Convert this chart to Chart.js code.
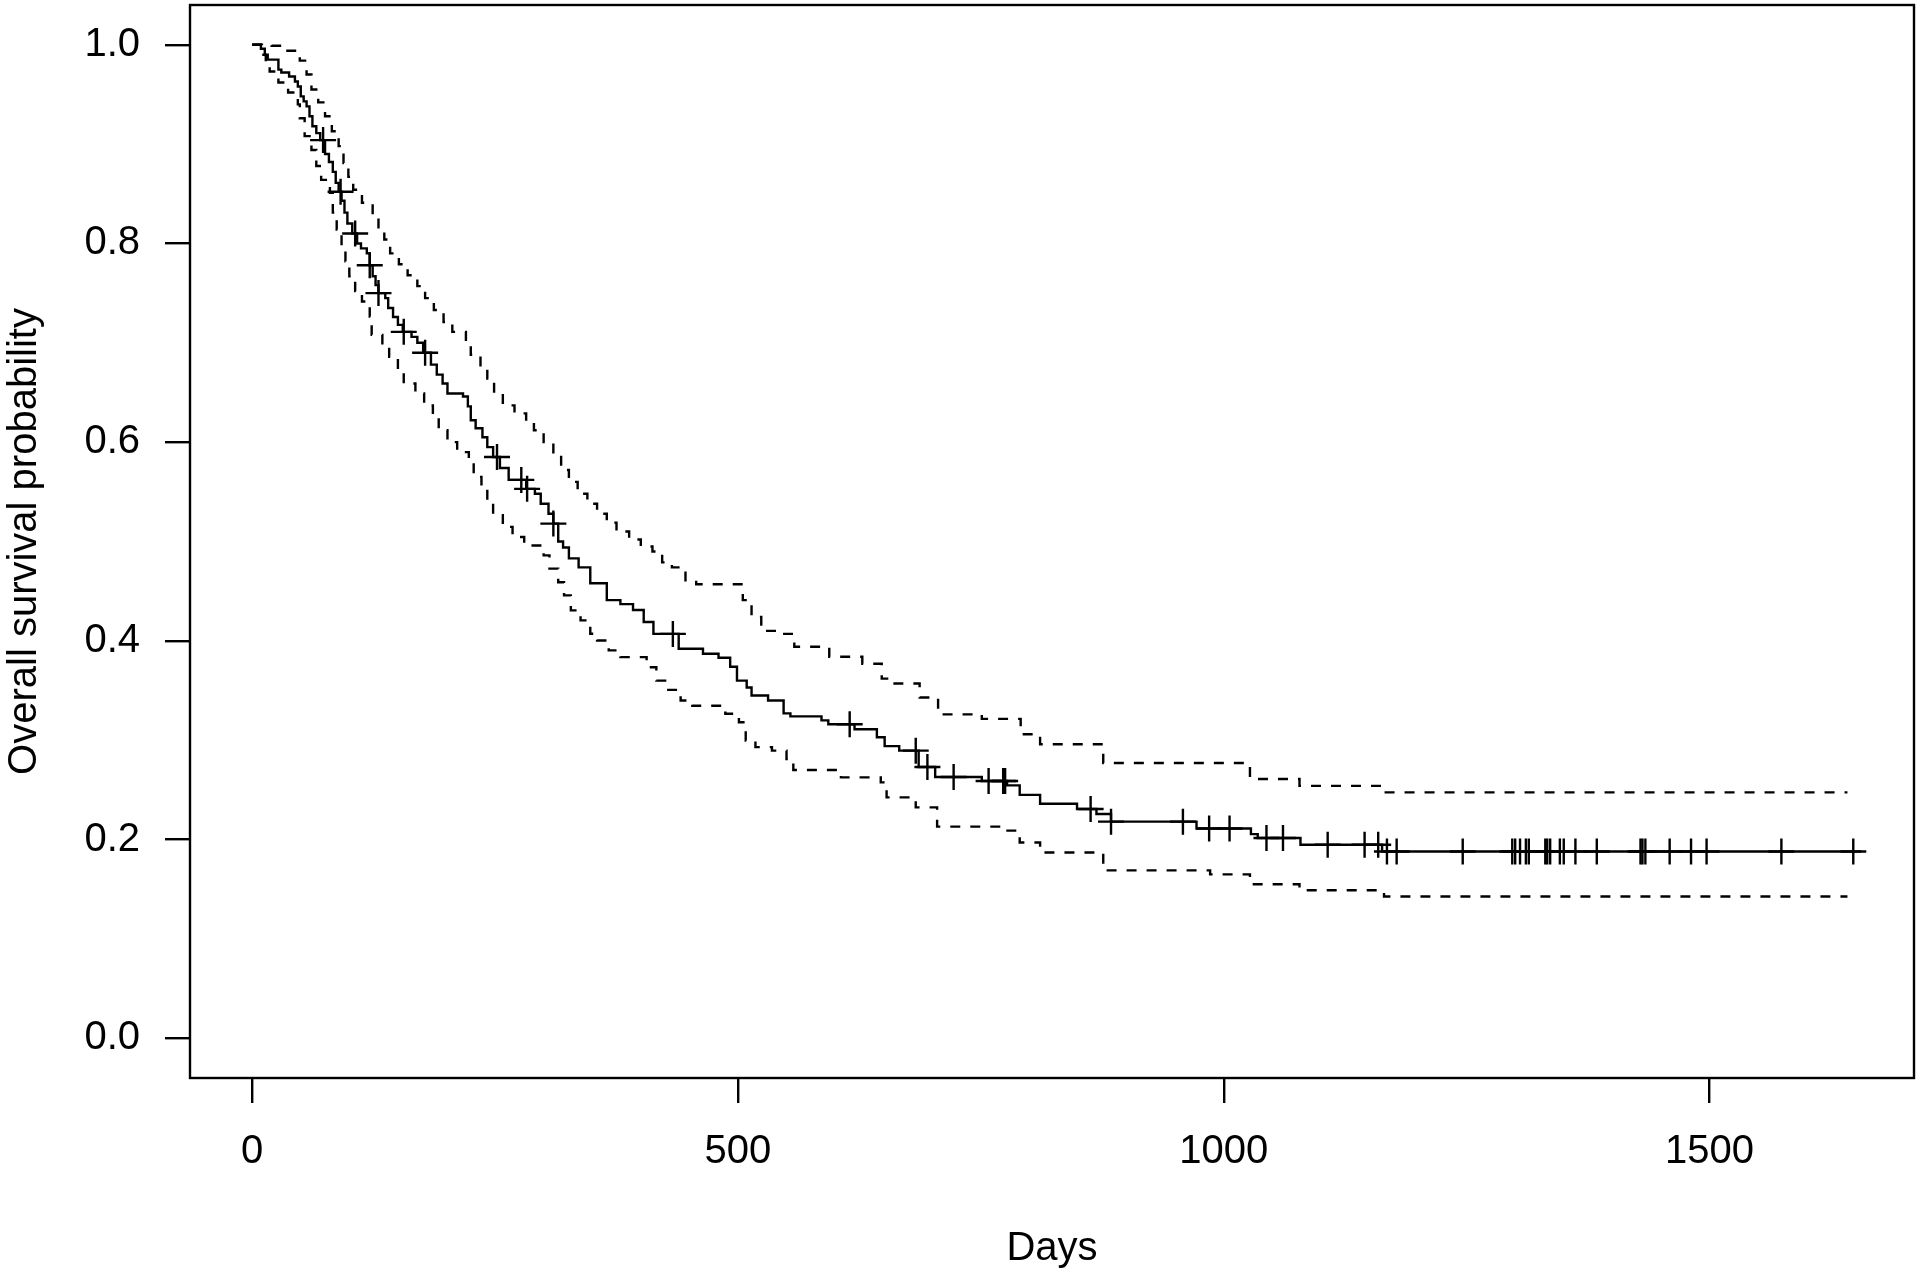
<!DOCTYPE html>
<html>
<head>
<meta charset="utf-8">
<script src="https://cdn.jsdelivr.net/npm/chart.js@4.4.1/dist/chart.umd.min.js"></script>
<style>
  html, body { margin: 0; padding: 0; background: #fff; }
</style>
</head>
<body>
<canvas id="km" width="1920" height="1276"></canvas>
<script>
// -------------------------------------------------------------
// Kaplan-Meier estimate: time (days) at which the curve drops to surv
// -------------------------------------------------------------
const kmTimes = [0, 9, 13, 16, 27, 30, 38, 44, 47, 50, 53, 56, 59, 62, 66, 70, 75, 79, 83, 86,
  89, 92, 95, 98, 103, 108, 112, 118, 121, 124, 127, 130, 137, 140, 145, 150, 155, 164, 170, 176,
  184, 190, 196, 201, 217, 222, 225, 230, 237, 242, 248, 255, 264, 282, 291, 297, 305, 310, 315, 320,
  326, 336, 348, 365, 379, 392, 403, 413, 439, 464, 480, 492, 499, 509, 514, 531, 547, 554, 586, 593,
  620, 643, 651, 666, 686, 703, 751, 777, 790, 811, 849, 869, 884, 972, 1028, 1035, 1079, 1163, 1656]
const kmSurv = [1.0, 0.996, 0.99, 0.985, 0.975, 0.972, 0.968, 0.963, 0.958, 0.948, 0.943, 0.938, 0.928, 0.918, 0.911, 0.904, 0.89, 0.882, 0.872, 0.861,
  0.852, 0.843, 0.831, 0.82, 0.81, 0.8, 0.795, 0.79, 0.778, 0.767, 0.758, 0.75, 0.745, 0.735, 0.726, 0.718, 0.711, 0.706, 0.7, 0.69,
  0.678, 0.668, 0.659, 0.649, 0.646, 0.636, 0.622, 0.614, 0.605, 0.595, 0.585, 0.574, 0.562, 0.553, 0.548, 0.538, 0.528, 0.518, 0.5, 0.494,
  0.483, 0.474, 0.458, 0.441, 0.437, 0.431, 0.419, 0.407, 0.392, 0.387, 0.383, 0.374, 0.36, 0.353, 0.345, 0.34, 0.327, 0.324, 0.32, 0.316,
  0.311, 0.303, 0.294, 0.2895, 0.273, 0.263, 0.259, 0.2545, 0.245, 0.236, 0.2307, 0.2257, 0.218, 0.2112, 0.2055, 0.2015, 0.1948, 0.188, 0.188]

// upper / lower 95% confidence limits
const upTimes = [0, 20, 35, 49, 56, 61, 68, 75, 82, 89, 94, 99, 104, 113, 124, 130, 136, 142, 151, 160,
  170, 178, 187, 197, 206, 220, 225, 235, 242, 249, 258, 270, 282, 290, 300, 310, 318, 326, 335, 345,
  355, 365, 375, 388, 400, 412, 422, 432, 446, 457, 505, 514, 524, 544, 558, 594, 628, 648, 655, 687,
  706, 751, 791, 811, 876, 1027, 1078, 1165, 1642]
const upSurv = [1.0, 0.999, 0.994, 0.984, 0.97, 0.955, 0.942, 0.928, 0.913, 0.898, 0.881, 0.867, 0.854, 0.841, 0.827, 0.815, 0.804, 0.79, 0.779, 0.768,
  0.757, 0.745, 0.733, 0.721, 0.711, 0.703, 0.688, 0.676, 0.664, 0.649, 0.637, 0.629, 0.62, 0.612, 0.6, 0.588, 0.572, 0.56, 0.548, 0.538,
  0.528, 0.519, 0.51, 0.502, 0.495, 0.49, 0.479, 0.474, 0.461, 0.457, 0.441, 0.424, 0.41, 0.407, 0.394, 0.384, 0.377, 0.362, 0.357, 0.343,
  0.326, 0.3215, 0.306, 0.296, 0.277, 0.261, 0.254, 0.2475, 0.2475]

const loTimes = [0, 10, 14, 18, 27, 37, 47, 49, 54, 61, 66, 71, 80, 83, 87, 92, 96, 100, 106, 113,
  121, 123, 134, 141, 150, 156, 168, 177, 186, 192, 201, 211, 223, 228, 236, 242, 248, 258, 268, 280,
  300, 306, 315, 321, 328, 338, 348, 355, 367, 379, 406, 416, 427, 441, 453, 487, 501, 508, 518, 535,
  550, 557, 606, 647, 653, 683, 705, 776, 790, 811, 876, 986, 1027, 1078, 1165, 1642]
const loSurv = [1.0, 0.99, 0.98, 0.973, 0.962, 0.952, 0.94, 0.926, 0.908, 0.894, 0.878, 0.864, 0.851, 0.831, 0.814, 0.797, 0.782, 0.767, 0.752, 0.7415,
  0.7264, 0.708, 0.698, 0.686, 0.673, 0.659, 0.649, 0.637, 0.626, 0.612, 0.6, 0.59, 0.582, 0.565, 0.555, 0.542, 0.5265, 0.5147, 0.5046, 0.496,
  0.486, 0.4727, 0.459, 0.4458, 0.4307, 0.4206, 0.4072, 0.4004, 0.3904, 0.3836, 0.3735, 0.36, 0.3507, 0.34, 0.3347, 0.3266, 0.318, 0.2996, 0.293, 0.2895,
  0.281, 0.27, 0.2626, 0.2576, 0.2425, 0.2324, 0.213, 0.209, 0.197, 0.187, 0.169, 0.165, 0.155, 0.149, 0.1427, 0.1427]

const censorTimes = [73, 91, 106, 121, 130, 156, 178, 252, 277, 283, 310, 433, 615, 683, 695, 722, 758, 773, 775,
  863, 884, 958, 985, 1006, 1044, 1061, 1107, 1145, 1159, 1168, 1178, 1246, 1297, 1300, 1305, 1311, 1314,
  1331, 1333, 1336, 1346, 1350, 1362, 1384, 1429, 1431, 1434, 1459, 1481, 1497, 1574, 1648]

const xTicks = [0, 500, 1000, 1500]
const yTicks = [0, 0.2, 0.4, 0.6, 0.8, 1.0]

// -------------------------------------------------------------
// helpers
// -------------------------------------------------------------
const toPoints = (ts, ss) => ts.map((t, i) => ({ x: t, y: ss[i] }))

function survAt(t) {
  let s = kmSurv[0]
  for (let i = 0; i < kmTimes.length; i++) {
    if (kmTimes[i] <= t) s = kmSurv[i]
  }
  return s
}

// no extra room for overhanging tick labels: plot box is fixed by layout padding
function noOverhang(s) {
  s.paddingTop = 0
  s.paddingBottom = 0
  s.paddingLeft = 0
  s.paddingRight = 0
}

const FONT = 'Liberation Sans, Arial, Helvetica, sans-serif'
const LW = 2.4

const boxPlugin = {
  id: 'box',
  afterDraw(chart) {
    const { ctx, chartArea: a } = chart
    ctx.save()
    ctx.strokeStyle = '#000'
    ctx.lineWidth = LW
    ctx.strokeRect(a.left, a.top, a.right - a.left, a.bottom - a.top)
    ctx.restore()
  }
}

new Chart(document.getElementById('km'), {
  type: 'scatter',
  data: {
    datasets: [
      {
        label: 'KM',
        data: toPoints(kmTimes, kmSurv),
        showLine: true,
        stepped: 'before',
        borderColor: '#000',
        borderWidth: LW,
        pointRadius: 0
      },
      {
        label: 'upper',
        data: toPoints(upTimes, upSurv),
        showLine: true,
        stepped: 'before',
        borderColor: '#000',
        borderWidth: LW,
        borderDash: [10, 10],
        pointRadius: 0
      },
      {
        label: 'lower',
        data: toPoints(loTimes, loSurv),
        showLine: true,
        stepped: 'before',
        borderColor: '#000',
        borderWidth: LW,
        borderDash: [10, 10],
        pointRadius: 0
      },
      {
        label: 'censored',
        data: censorTimes.map(t => ({ x: t, y: survAt(t) })),
        showLine: false,
        pointStyle: 'cross',
        pointRadius: 13,
        borderColor: '#000',
        borderWidth: LW
      }
    ]
  },
  options: {
    responsive: false,
    animation: false,
    layout: { autoPadding: false, padding: { top: 5, right: 6, left: 0, bottom: 0 } },
    plugins: {
      legend: { display: false },
      tooltip: { enabled: false }
    },
    scales: {
      x: {
        type: 'linear',
        min: -64,
        max: 1710.5,
        afterBuildTicks: s => { s.ticks = xTicks.map(v => ({ value: v })) },
        afterFit: s => { s.height = 198; noOverhang(s) },
        grid: { display: true, drawOnChartArea: false, drawTicks: true, tickLength: 25, color: '#000', lineWidth: LW },
        border: { display: false },
        ticks: { color: '#000', font: { family: FONT, size: 40 }, padding: 25, maxRotation: 0, callback: v => String(v) },
        title: { display: true, text: 'Days', color: '#000', font: { family: FONT, size: 40 }, padding: { top: 0, bottom: 3 } }
      },
      y: {
        type: 'linear',
        min: -0.04,
        max: 1.04,
        afterBuildTicks: s => { s.ticks = yTicks.map(v => ({ value: v })) },
        afterFit: s => { s.width = 190; noOverhang(s) },
        grid: { display: true, drawOnChartArea: false, drawTicks: true, tickLength: 25, color: '#000', lineWidth: LW },
        border: { display: false },
        ticks: { color: '#000', font: { family: FONT, size: 40 }, padding: 25, callback: v => Number(v).toFixed(1) },
        title: { display: true, text: 'Overall survival probability', color: '#000', font: { family: FONT, size: 40 }, padding: { top: 1, bottom: 0 } }
      }
    }
  },
  plugins: [boxPlugin]
})
</script>
</body>
</html>
